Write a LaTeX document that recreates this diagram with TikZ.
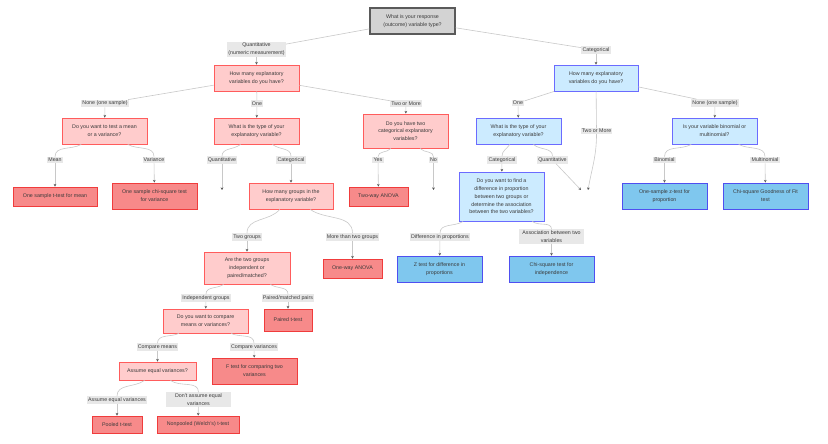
\documentclass[tikz,border=0pt]{standalone}
\usepackage{fontspec}
\setmainfont{Liberation Sans}
\usetikzlibrary{arrows.meta}

\definecolor{txtgray}{HTML}{3A3A3A}
\definecolor{linkgray}{HTML}{C8C8C8}
\definecolor{tipgray}{HTML}{555555}
\definecolor{lblgray}{HTML}{E8E8E8}
\definecolor{rootfill}{HTML}{D3D3D3}
\definecolor{rootdraw}{HTML}{5A5A5A}
\definecolor{qredfill}{HTML}{FFCCCC}
\definecolor{qreddraw}{HTML}{FF5C5C}
\definecolor{tredfill}{HTML}{F78A8A}
\definecolor{treddraw}{HTML}{F03C3C}
\definecolor{qbluefill}{HTML}{CCEBFF}
\definecolor{qbluedraw}{HTML}{6B6BFF}
\definecolor{tbluefill}{HTML}{7FC7EE}
\definecolor{tbluedraw}{HTML}{4F4FF0}

\begin{document}
\begin{tikzpicture}[
			x=1pt, y=-1pt,
			every node/.style={font=\fontsize{5.3}{7.8}\selectfont, text=txtgray, align=center, inner sep=1pt},
			box/.style={draw, line width=0.9pt, minimum width=85pt, minimum height=26pt},
			rootbox/.style={box, fill=rootfill, draw=rootdraw, line width=1.1pt},
			qred/.style={box, fill=qredfill, draw=qreddraw},
			tred/.style={box, fill=tredfill, draw=treddraw},
			qblue/.style={box, fill=qbluefill, draw=qbluedraw},
			tblue/.style={box, fill=tbluefill, draw=tbluedraw},
			lbl/.style={fill=lblgray, inner sep=1.2pt},
			link/.style={draw=linkgray, line width=0.6pt},
			arr/.style={link, -{Stealth[length=2.6pt,width=2.6pt,color=tipgray]}}
		]
		\useasboundingbox (0,0) rectangle (828,444);

		% question and answer boxes
		\node[rootbox] (root) at (412.5,21) {What is your response\\(outcome) variable type?};
		\node[qred] (q1) at (256.5,78) {How many explanatory\\variables do you have?};
		\node[qblue, minimum width=84pt] (c1) at (596,78) {How many explanatory\\variables do you have?};
		\node[qred] (q2a) at (104.5,131) {Do you want to test a mean\\or a variance?};
		\node[qred] (q2b) at (256.5,131) {What is the type of your\\explanatory variable?};
		\node[qred, minimum height=34pt] (q2c) at (405.5,131) {Do you have two\\categorical explanatory\\variables?};
		\node[qblue] (c2a) at (518.5,131) {What is the type of your\\explanatory variable?};
		\node[qblue] (c2b) at (714.5,131) {Is your variable binomial or\\multinomial?};
		\node[tred, minimum width=84pt, minimum height=19pt] (tMean) at (55,196.5) {One sample t-test for mean};
		\node[tred] (tVar) at (154.5,196) {One sample chi-square test\\for variance};
		\node[qred, minimum width=84pt] (q3) at (291,196) {How many groups in the\\explanatory variable?};
		\node[tred, minimum width=59pt, minimum height=19pt] (tAnova2) at (378.5,196.5) {Two-way ANOVA};
		\node[qblue, minimum height=49pt] (c3) at (501.5,196.5) {Do you want to find a\\difference in proportion\\between two groups or\\determine the association\\between the two variables?};
		\node[tblue] (tZ1) at (664.5,196) {One-sample z-test for\\proportion};
		\node[tblue] (tGof) at (765.5,196) {Chi-square Goodness of Fit\\test};
		\node[qred, minimum width=86pt, minimum height=32pt] (q4) at (247,268) {Are the two groups\\independent or\\paired/matched?};
		\node[tred, minimum width=59pt, minimum height=19pt] (tAnova1) at (352.5,268.5) {One-way ANOVA};
		\node[tblue] (tZ2) at (439.5,269) {Z test for difference in\\proportions};
		\node[tblue] (tChi) at (551.5,269) {Chi-square test for\\independence};
		\node[qred, minimum height=24pt] (q5) at (205.5,321) {Do you want to compare\\means or variances?};
		\node[tred, minimum width=48pt, minimum height=22pt] (tPaired) at (288,320) {Paired t-test};
		\node[qred, minimum width=77pt, minimum height=18pt] (q6) at (157.5,371) {Assume equal variances?};
		\node[tred] (tF) at (254.5,371) {F test for comparing two\\variances};
		\node[tred, minimum width=50pt, minimum height=17pt] (tPooled) at (117,424.5) {Pooled t-test};
		\node[tred, minimum width=82pt, minimum height=17pt] (tWelch) at (198,424.5) {Nonpooled (Welch's) t-test};

		% edge labels
		\node[lbl] (lQuant) at (256.5,49.5) {Quantitative\\(numeric measurement)};
		\node[lbl] (lCat) at (596,50) {Categorical};
		\node[lbl] (lNone1) at (105,103.5) {None (one sample)};
		\node[lbl] (lOne1) at (257,103.5) {One};
		\node[lbl] (lTwo1) at (406,103.5) {Two or More};
		\node[lbl] (lOne2) at (518,103) {One};
		\node[lbl] (lTwo2) at (596.5,131) {Two or More};
		\node[lbl] (lNone2) at (715,103) {None (one sample)};
		\node[lbl] (lMean) at (55,160) {Mean};
		\node[lbl] (lVar) at (154,160) {Variance};
		\node[lbl] (lQuant2) at (222,160) {Quantitative};
		\node[lbl] (lCat2) at (291,160) {Categorical};
		\node[lbl] (lYes) at (378,160) {Yes};
		\node[lbl] (lNo) at (433.5,160) {No};
		\node[lbl] (lCat3) at (502,160) {Categorical};
		\node[lbl] (lQuant3) at (552.5,160) {Quantitative};
		\node[lbl] (lBinom) at (664.5,160) {Binomial};
		\node[lbl] (lMulti) at (765,160) {Multinomial};
		\node[lbl] (lTwoG) at (247,237) {Two groups};
		\node[lbl] (lMore) at (352.5,237) {More than two groups};
		\node[lbl] (lDiff) at (440,237) {Difference in proportions};
		\node[lbl, minimum width=65pt] (lAssoc) at (551.5,236.5) {Association between two\\variables};
		\node[lbl] (lIndep) at (206,298) {Independent groups};
		\node[lbl] (lPaired) at (288,298) {Paired/matched pairs};
		\node[lbl] (lMeans) at (157.5,347) {Compare means};
		\node[lbl] (lVars) at (254,347) {Compare variances};
		\node[lbl] (lEqual) at (117,400) {Assume equal variances};
		\node[lbl, minimum width=65pt] (lNotEqual) at (198.5,399.5) {Don't assume equal\\variances};

		% loose ends
		\coordinate (endQ) at (222,190);
		\coordinate (endNo) at (433.5,190);
		\coordinate (endC1) at (581,190);
		\coordinate (endC2) at (588,190);

		% connectors
		\draw[link] (root) -- (lQuant);
		\draw[arr] (lQuant) -- (q1);
		\draw[link] (root) -- (lCat);
		\draw[arr] (lCat) -- (c1);

		\draw[link] (q1) -- (lNone1);
		\draw[arr] (lNone1) -- (q2a);
		\draw[link] (q1) -- (lOne1);
		\draw[arr] (lOne1) -- (q2b);
		\draw[link] (q1) -- (lTwo1);
		\draw[arr] (lTwo1) -- (q2c);

		\draw[link] (c1) -- (lOne2);
		\draw[arr] (lOne2) -- (c2a);
		\draw[link] (c1) -- (lTwo2);
		\draw[arr] (lTwo2) to[out=-90, in=80] (endC2);
		\draw[link] (c1) -- (lNone2);
		\draw[arr] (lNone2) -- (c2b);

		\draw[link] (q2a) to[out=-150, in=90] (lMean);
		\draw[arr] (lMean) -- (tMean);
		\draw[link] (q2a) to[out=-30, in=90] (lVar);
		\draw[arr] (lVar) -- (tVar);

		\draw[link] (q2b) to[out=-140, in=90] (lQuant2);
		\draw[arr] (lQuant2) -- (endQ);
		\draw[link] (q2b) to[out=-40, in=90] (lCat2);
		\draw[arr] (lCat2) -- (q3);

		\draw[link] (q2c) to[out=-130, in=90] (lYes);
		\draw[arr] (lYes) -- (tAnova2);
		\draw[link] (q2c) to[out=-50, in=90] (lNo);
		\draw[arr] (lNo) -- (endNo);

		\draw[link] (c2a) to[out=-123, in=90] (lCat3);
		\draw[arr] (lCat3) -- (c3);
		\draw[link] (c2a) to[out=-42, in=90] (lQuant3);
		\draw[arr] (lQuant3) -- (endC1);

		\draw[link] (c2b) to[out=-150, in=90] (lBinom);
		\draw[arr] (lBinom) -- (tZ1);
		\draw[link] (c2b) to[out=-29, in=90] (lMulti);
		\draw[arr] (lMulti) -- (tGof);

		\draw[link] (q3) to[out=-130, in=90] (lTwoG);
		\draw[arr] (lTwoG) -- (q4);
		\draw[link] (q3) to[out=-35, in=90] (lMore);
		\draw[arr] (lMore) -- (tAnova1);

		\draw[link] (c3) to[out=-147, in=90] (lDiff);
		\draw[arr] (lDiff) -- (tZ2);
		\draw[link] (c3) to[out=-39, in=90] (lAssoc);
		\draw[arr] (lAssoc) -- (tChi);

		\draw[link] (q4) to[out=-145, in=90] (lIndep);
		\draw[arr] (lIndep) -- (q5);
		\draw[link] (q4) to[out=-35, in=90] (lPaired);
		\draw[arr] (lPaired) -- (tPaired);

		\draw[link] (q5) to[out=-155, in=90] (lMeans);
		\draw[arr] (lMeans) -- (q6);
		\draw[link] (q5) to[out=-26, in=90] (lVars);
		\draw[arr] (lVars) -- (tF);

		\draw[link] (q6) to[out=-144, in=90] (lEqual);
		\draw[arr] (lEqual) -- (tPooled);
		\draw[link] (q6) to[out=-36, in=90] (lNotEqual);
		\draw[arr] (lNotEqual) -- (tWelch);
	\end{tikzpicture}
\end{document}
